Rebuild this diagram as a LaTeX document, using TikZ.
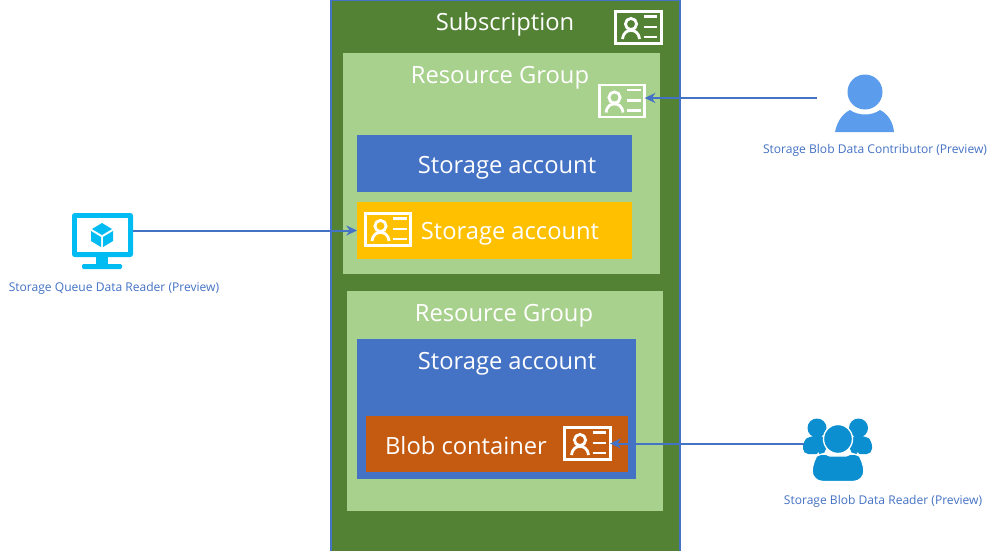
\documentclass[tikz,border=0pt]{standalone}
\usepackage{fontspec}
\usetikzlibrary{arrows.meta}
\setmainfont{Open Sans}
\definecolor{subgreen}{HTML}{548235}
\definecolor{rggreen}{HTML}{A9D18E}
\definecolor{accblue}{HTML}{4472C4}
\definecolor{accamber}{HTML}{FFC000}
\definecolor{blobrust}{HTML}{C55A11}
\definecolor{vmcyan}{HTML}{00BCF2}
\definecolor{userblue}{HTML}{5C9CEC}
\definecolor{teamblue}{HTML}{0B8FD0}
\tikzset{
  x=0.75pt, y=-0.75pt,
  panel/.style={inner sep=0pt, outer sep=0pt, anchor=north west},
  heading/.style={text=white, font=\fontsize{17.8}{20}\selectfont, inner sep=0pt, yshift=-2pt},
  rolelabel/.style={text=accblue, font=\fontsize{9.05}{11}\selectfont, inner sep=0pt, yshift=-0.6pt},
  roleline/.style={draw=accblue, line width=1.5pt},
  rolearrow/.style={roleline, -{Stealth[length=8pt,width=7.5pt]}},
  cardmark/.style={draw=white, line width=2.1pt},
}
% filled panel given by its corners: name, x0, y0, x1, y1, fill
\newcommand{\panelbox}[6]{%
  \pgfmathsetmacro{\pw}{(#4-#2)*0.75}%
  \pgfmathsetmacro{\ph}{(#5-#3)*0.75}%
  \node[panel, fill=#6, minimum width=\pw pt, minimum height=\ph pt] (#1) at (#2,#3) {};%
}
% role-assignment card: name, centre x, centre y
\newcommand{\rolecard}[3]{%
  \node[draw=white, line width=2.2pt, inner sep=0pt, outer sep=0pt,
        minimum width=34pt, minimum height=24pt] (#1) at (#2,#3) {};%
  \begin{scope}[shift={(#2,#3)}]
    \draw[cardmark] (-7.5,-3.5) circle[radius=5.6];
    \draw[cardmark] (-16,11.5) .. controls (-15,4.5) and (-11,3) .. (-7.5,3)
      .. controls (-4,3) and (0,4.5) .. (1,11.5);
    \foreach \ly in {-11,-0.5,9.5}
      \draw[cardmark] (5,\ly) -- (18.5,\ly);
  \end{scope}%
}
\begin{document}
\begin{tikzpicture}
\useasboundingbox[fill=white] (0,0) rectangle (999,551);

% nested scopes
\panelbox{subscription}{331}{0}{680}{551}{subgreen}
\draw[accblue, line width=0.9pt] (subscription.south west) -- (subscription.north west)
  -- (subscription.north east) -- (subscription.south east);
\panelbox{rgone}{343}{53}{660}{274}{rggreen}
\panelbox{rgtwo}{347}{291}{663}{511}{rggreen}
\panelbox{accone}{357}{135}{632}{192}{accblue}
\panelbox{acctwo}{357}{202}{632}{259}{accamber}
\panelbox{accthree}{357}{339}{636}{479}{accblue}
\panelbox{blob}{366}{416}{628}{472}{blobrust}

% headings
\node[heading] (tsub) at (505,22) {Subscription};
\node[heading] (trgone) at (500,75) {Resource Group};
\node[heading] (tacone) at (507,165) {Storage account};
\node[heading] (tactwo) at (510,231) {Storage account};
\node[heading] (trgtwo) at (504,313) {Resource Group};
\node[heading] (tacthree) at (507,361) {Storage account};
\node[heading] (tblob) at (466,442.5) {Blob container};

% role cards
\rolecard{cardsub}{638.5}{27.5}
\rolecard{cardrg}{622}{101}
\rolecard{cardacc}{388}{229.5}
\rolecard{cardblob}{587.5}{443.5}

% virtual machine icon
\node[inner sep=0pt, outer sep=0pt, minimum width=45.75pt, minimum height=33pt] (vm) at (102.5,235) {};
\fill[vmcyan, rounded corners=2pt] (72,213) rectangle (133,257);
\fill[white] (77,218) rectangle (128,252);
\fill[vmcyan] (96,257) rectangle (108,265);
\fill[vmcyan, rounded corners=1pt] (82,264) rectangle (122,269);
\fill[vmcyan] (102,223) -- (112,229) -- (102,235) -- (92,229) -- cycle;
\fill[vmcyan] (91,231) -- (101,237) -- (101,247) -- (91,241) -- cycle;
\fill[vmcyan] (113,231) -- (103,237) -- (103,247) -- (113,241) -- cycle;

% single user icon
\fill[userblue] (865,92) circle[radius=17.5];
\fill[userblue] (835,132) .. controls (837,122) and (842,114) .. (850,110)
  .. controls (858,116) and (872,116) .. (880,110)
  .. controls (888,114) and (893,122) .. (894,132) -- cycle;
\coordinate (userwire) at (817,98);

% group icon
\node[inner sep=0pt, outer sep=0pt, minimum width=51pt, minimum height=47pt] (team) at (837.5,450) {};
\fill[teamblue] (817,428) circle[radius=9.5];
\fill[teamblue] (858.5,428) circle[radius=9.5];
\fill[teamblue, rounded corners=4pt] (803,454) -- (803,441) -- (810,436) -- (826,436) -- (826,454) -- cycle;
\fill[teamblue, rounded corners=4pt] (872,454) -- (872,441) -- (866,436) -- (850,436) -- (850,454) -- cycle;
\draw[white, line width=1pt, fill=teamblue, rounded corners=8pt]
  (812,481.5) -- (812,461) -- (821,450) .. controls (830,456) and (846,456) .. (855,450) -- (864,461) -- (864,481.5) -- cycle;
\draw[white, line width=1pt, fill=teamblue] (838,439) circle[radius=14.5];

% role labels
\node[rolelabel] (lblvm) at (114,288) {Storage Queue Data Reader (Preview)};
\node[rolelabel] (lbluser) at (875,149.5) {Storage Blob Data Contributor (Preview)};
\node[rolelabel] (lblteam) at (883,500.5) {Storage Blob Data Reader (Preview)};

% assignments
\draw[rolearrow] (userwire) -- (cardrg.east |- userwire);
\draw[rolearrow] (vm.east |- acctwo.west) -- (acctwo.west);
\draw[rolearrow] (team.west |- cardblob.east) -- (cardblob.east);
\end{tikzpicture}
\end{document}
